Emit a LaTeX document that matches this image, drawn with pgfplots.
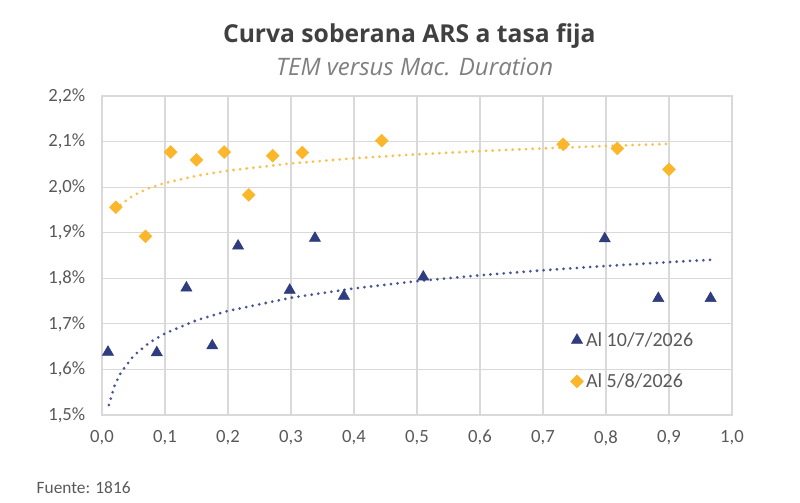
\documentclass[border=0pt]{standalone}
\usepackage{pgfplots}
\pgfplotsset{compat=1.18}
\usepackage{fontspec}
\setmainfont{Carlito}
\newfontfamily\titlefont{Open Sans}
\definecolor{navy}{HTML}{2F3C7E}
\definecolor{navytr}{HTML}{4A5592}
\definecolor{gold}{HTML}{FBB62A}
\definecolor{goldtr}{HTML}{FBC04A}
\definecolor{gridgray}{HTML}{D9D9D9}
\definecolor{txtgray}{HTML}{595959}
\definecolor{titlegray}{HTML}{404040}
\definecolor{subgray}{HTML}{7F7F7F}

\pgfplotstableread{
x y
0.0095 1.638
0.087 1.637
0.134 1.779
0.175 1.652
0.216 1.871
0.298 1.774
0.338 1.888
0.384 1.761
0.510 1.803
0.798 1.887
0.883 1.756
0.966 1.756
}\bluedata

\pgfplotstableread{
x y
0.022 1.956
0.069 1.892
0.109 2.077
0.150 2.060
0.194 2.077
0.233 1.983
0.271 2.069
0.318 2.076
0.444 2.102
0.732 2.094
0.818 2.085
0.900 2.039
}\golddata

\pgfplotstableread{
x y
0.011 1.5219
0.02 1.5645
0.03 1.5933
0.05 1.6297
0.075 1.6586
0.1 1.6790
0.15 1.7079
0.2 1.7284
0.3 1.7573
0.4 1.7778
0.5 1.7937
0.6 1.8066
0.7 1.8176
0.8 1.8271
0.9 1.8355
0.966 1.8405
}\bluetrend

\pgfplotstableread{
x y
0.022 1.9501
0.03 1.9622
0.05 1.9822
0.075 1.9980
0.1 2.0092
0.15 2.0250
0.2 2.0362
0.3 2.0520
0.4 2.0633
0.5 2.0720
0.6 2.0791
0.7 2.0851
0.8 2.0903
0.9 2.0949
}\goldtrend

\begin{document}
\begin{tikzpicture}[x=1pt,y=1pt]
\useasboundingbox (0,0) rectangle (600,377.25);
\node[font=\titlefont\bfseries\fontsize{18.5}{22}\selectfont, text=titlegray] at (307,350) {Curva soberana ARS a tasa fija};
\node[font=\titlefont\itshape\fontsize{18}{21}\selectfont, text=subgray] at (311,327) {TEM versus Mac. Duration};
\node[font=\fontsize{13}{15}\selectfont, text=txtgray, anchor=west] at (24,11.25) {Fuente: 1816};
\begin{axis}[
  at={(76.5pt,66pt)}, anchor=south west,
  scale only axis, width=472.5pt, height=239.25pt,
  xmin=0, xmax=1, ymin=1.5, ymax=2.2,
  xtick={0,0.1,0.2,0.3,0.4,0.5,0.6,0.7,0.8,0.9,1},
  ytick={1.5,1.6,1.7,1.8,1.9,2.0,2.1,2.2},
  grid=major,
  major grid style={gridgray, line width=0.8pt},
  axis line style={gridgray, line width=0.8pt},
  major tick length=0pt,
  /pgf/number format/assume math mode=true,
  tick label style={font=\fontsize{14}{16}\selectfont, text=txtgray},
  xticklabel={\pgfmathprintnumber[fixed,fixed zerofill,precision=1,use comma,assume math mode=true]{\tick}},
  yticklabel={\pgfmathprintnumber[fixed,fixed zerofill,precision=1,use comma,assume math mode=true]{\tick}\%},
  xticklabel shift=8pt,
  yticklabel shift=9pt,
  legend style={at={(axis cs:0.737,1.694)}, anchor=north west, draw=none, fill=none,
     font=\fontsize{15}{17}\selectfont, text=txtgray, row sep=15pt},
  legend cell align=left,
  legend image code/.code={\draw[mark repeat=2,mark phase=2] plot coordinates {(0cm,0cm)(0.2cm,0cm)(0.4cm,0cm)};},
]
\addplot[forget plot, navytr, line width=2.3pt, line cap=round, dash pattern=on 0pt off 5pt] table[x=x,y=y] {\bluetrend};
\addplot[forget plot, goldtr, line width=2.3pt, line cap=round, dash pattern=on 0pt off 5pt] table[x=x,y=y] {\goldtrend};
\addplot[only marks, mark=triangle*, mark size=4.8pt, color=navy] table[x=x,y=y] {\bluedata};
\addlegendentry{Al 10/7/2026}
\addplot[only marks, mark=square*, mark size=3.4pt, mark options={rotate=45}, color=gold] table[x=x,y=y] {\golddata};
\addlegendentry{Al 5/8/2026}
\end{axis}
\end{tikzpicture}
\end{document}
